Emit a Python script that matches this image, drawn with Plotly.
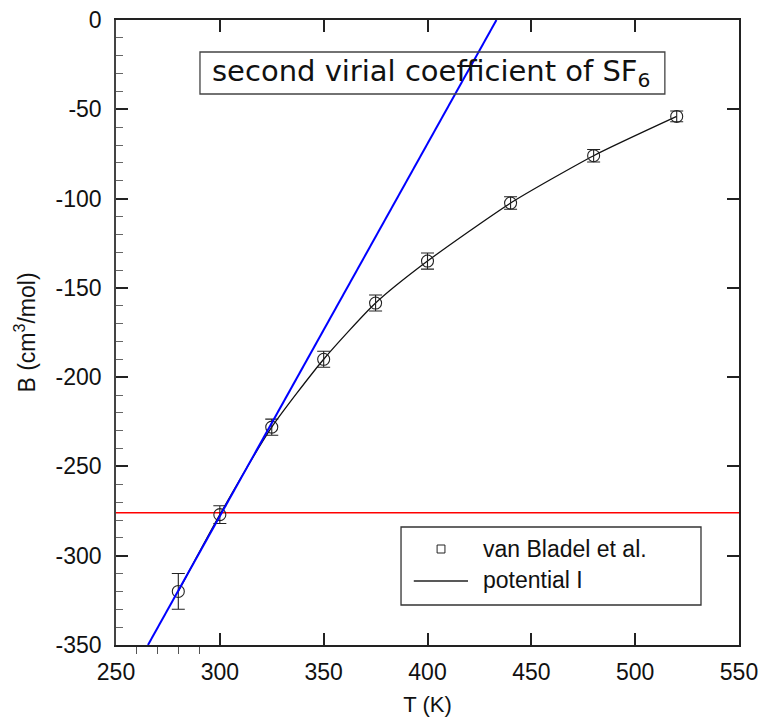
import plotly.graph_objects as go

# ---- data ----
T_exp = [280, 300, 325, 350, 375, 400, 440, 480, 520]
B_exp = [-320, -277, -228, -190, -158.5, -135, -102.5, -76, -54]
B_err = [10, 5, 4.5, 4.5, 4.5, 4.5, 3.5, 3.5, 3]

T_pot = [280, 300, 325, 350, 375, 400, 440, 480, 520]
B_pot = [-320, -277, -228, -190, -158.5, -135, -102.5, -76, -54]

T_tangent = [265.4, 433.2]
B_tangent = [-350, 0]

T_red = [250, 550]
B_red = [-276, -276]

x_ticks = [250, 300, 350, 400, 450, 500, 550]
y_ticks = [0, -50, -100, -150, -200, -250, -300, -350]

fig = go.Figure()

fig.add_trace(go.Scatter(x=T_red, y=B_red, mode="lines",
                         line=dict(color="#ff0000", width=1.5), showlegend=False, hoverinfo="skip"))
fig.add_trace(go.Scatter(x=T_pot, y=B_pot, mode="lines",
                         line=dict(color="#111111", width=1.3, shape="spline", smoothing=0.6),
                         showlegend=False))
fig.add_trace(go.Scatter(x=T_exp, y=B_exp, mode="markers",
                         marker=dict(symbol="circle-open", size=12, color="#222222", line=dict(width=1.1)),
                         error_y=dict(type="data", array=B_err, visible=True, color="#222222",
                                      thickness=1.1, width=6.5),
                         showlegend=False))
fig.add_trace(go.Scatter(x=T_tangent, y=B_tangent, mode="lines",
                         line=dict(color="#0000ff", width=2), showlegend=False))
# helper trace for the top/right frame axes
fig.add_trace(go.Scatter(x=[None], y=[None], xaxis="x2", yaxis="y2", mode="markers",
                         showlegend=False, hoverinfo="skip"))

axis_font = dict(family="Liberation Sans, Arial, sans-serif", size=23, color="#111111")

fig.update_layout(
    width=765, height=718,
    margin=dict(l=108, r=34, t=12, b=81),
    paper_bgcolor="white", plot_bgcolor="white",
    showlegend=False,
    xaxis=dict(range=[250, 550], tickvals=x_ticks, ticktext=[str(v) for v in x_ticks],
               ticks="inside", ticklen=12, tickwidth=1.5, tickcolor="#222222",
               showline=True, linecolor="#222222", linewidth=1.5, automargin=False,
               showgrid=False, zeroline=False, tickfont=axis_font, ticklabelstandoff=6,
               ticklabeloverflow="allow",
               minor=dict(tickvals=[260, 270, 280, 290], ticks="outside", ticklen=7,
                          tickwidth=1.2, tickcolor="#555555"),
               title=dict(text="T (K)", font=dict(family="Liberation Sans, Arial, sans-serif", size=22, color="#111111"), standoff=12)),
    yaxis=dict(range=[-350, 0], tickvals=y_ticks, ticktext=[str(v) for v in y_ticks],
               ticks="inside", ticklen=12, tickwidth=1.5, tickcolor="#222222",
               showline=True, linecolor="#444444", linewidth=1.5, automargin=False,
               showgrid=False, zeroline=False, tickfont=axis_font, ticklabelstandoff=8,
               ticklabeloverflow="allow",
               minor=dict(dtick=10, ticks="inside", ticklen=7, tickwidth=1, tickcolor="#666666"),
               title=dict(text="B (cm<sup>3</sup>/mol)", font=dict(family="Liberation Sans, Arial, sans-serif", size=23, color="#111111"), standoff=14)),
    xaxis2=dict(range=[250, 550], overlaying="x", side="top", anchor="y", automargin=False,
                tickvals=[300, 350, 400, 450, 500], ticks="inside", ticklen=12, tickwidth=1.5,
                tickcolor="#222222", showticklabels=False, showline=True, linecolor="#222222",
                linewidth=1.5, showgrid=False, zeroline=False),
    yaxis2=dict(range=[-350, 0], overlaying="y", side="right", anchor="x", automargin=False,
                tickvals=[-50, -100, -150, -200, -250, -300], ticks="inside", ticklen=12,
                tickwidth=1.5, tickcolor="#222222", showticklabels=False, showline=True,
                linecolor="#222222", linewidth=1.5, showgrid=False, zeroline=False),
)

# title box
fig.add_shape(type="rect", xref="paper", yref="paper", x0=0.1348, x1=0.881, y0=0.8816, y1=0.9488,
              line=dict(color="#444444", width=1.3), fillcolor="rgba(0,0,0,0)")
fig.add_annotation(xref="paper", yref="paper", x=0.5064, y=0.9152, xanchor="center", yanchor="middle",
                   text="second virial coefficient of SF<sub>6</sub>", showarrow=False,
                   font=dict(family="DejaVu Sans", size=29, color="#111111"))

# legend box
fig.add_shape(type="rect", xref="paper", yref="paper", x0=0.4575, x1=0.939, y0=0.064, y1=0.1888,
              line=dict(color="#333333", width=1.3), fillcolor="white")
fig.add_shape(type="rect", xref="paper", yref="paper", x0=0.5154, x1=0.528, y0=0.1472, y1=0.16,
              line=dict(color="#222222", width=1), fillcolor="white")
fig.add_shape(type="line", xref="paper", yref="paper", x0=0.478, x1=0.565, y0=0.1024, y1=0.1024,
              line=dict(color="#222222", width=1.3))
leg_font = dict(family="Liberation Sans, Arial, sans-serif", size=23, color="#111111")
fig.add_annotation(xref="paper", yref="paper", x=0.586, y=0.1536, xanchor="left", yanchor="middle",
                   text="van Bladel et al.", showarrow=False, font=leg_font)
fig.add_annotation(xref="paper", yref="paper", x=0.586, y=0.104, xanchor="left", yanchor="middle",
                   text="potential I", showarrow=False, font=leg_font)

fig.write_html("out.html")
